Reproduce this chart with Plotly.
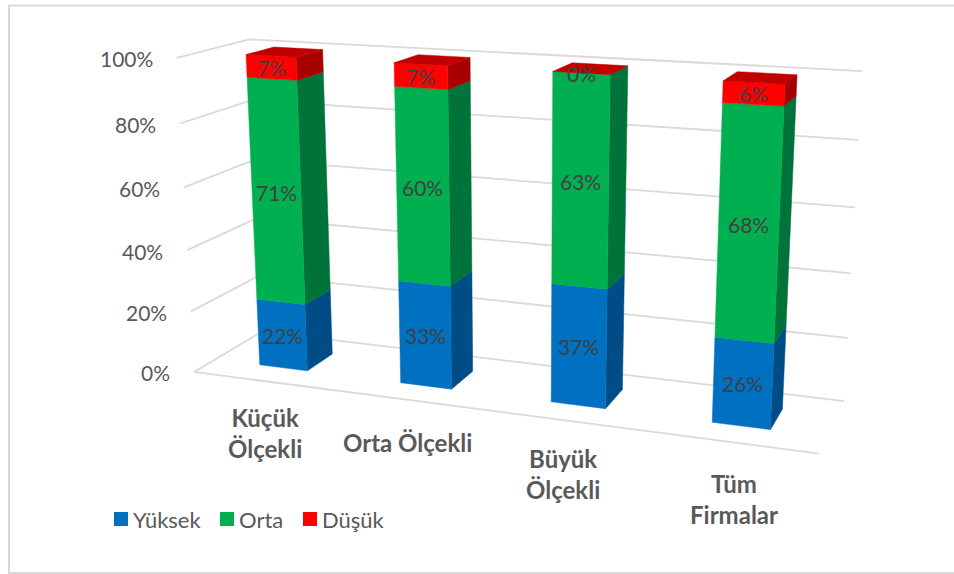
import numpy as np
import plotly.graph_objects as go

categories = ["Küçük<br>Ölçekli", "Orta Ölçekli", "Büyük<br>Ölçekli", "Tüm<br>Firmalar"]
series_names = ["Yüksek", "Orta", "Düşük"]
yuksek = [22, 33, 37, 26]
orta = [71, 60, 63, 68]
dusuk = [7, 7, 0, 6]
value_ticks = [0, 20, 40, 60, 80, 100]

series_values = [yuksek, orta, dusuk]
front_colors = ["#0070C0", "#00B050", "#FF0000"]
side_colors = ["#004C86", "#00733A", "#A60000"]
top_color = "#C00000"
GRID = "#D9D9D9"
TICK_TXT = "#595959"
LABEL_TXT = "#404040"
FONT = "Lato"

# perspective camera of the 3-D box: world (category, depth, share) -> screen
world = np.array([[0, 0, 0], [0, 0, 1], [0, 1, 0], [0, 1, 1], [4, 0, 0], [4, 1, 0], [4, 1, 1]], float)
screen = np.array([[194, 372], [176.7, 58], [262, 331.5], [249.3, 39.3], [819, 453.3], [844.3, 401.3], [862.3, 71]])
A, b = [], []
for (X, Y, Z), (u, v) in zip(world, screen):
    A.append([X, Y, Z, 1, 0, 0, 0, 0, -u * X, -u * Y, -u * Z]); b.append(u)
    A.append([0, 0, 0, 0, X, Y, Z, 1, -v * X, -v * Y, -v * Z]); b.append(v)
P = np.append(np.linalg.lstsq(np.array(A), np.array(b), rcond=None)[0], 1).reshape(3, 4)


def project(X, Y, Z):
    h = P @ np.array([X, Y, Z, 1.0])
    return h[0] / h[2], h[1] / h[2]


BAR_W = 0.345
D0, D1 = 0.30, 0.70
LABEL_DX = [2, -1, -1, 3]
LABEL_DY = [20, 26, 22, 25]

fig = go.Figure()


def poly(points, color):
    xy = [project(*p) for p in points]
    xs = [q[0] for q in xy] + [xy[0][0]]
    ys = [q[1] for q in xy] + [xy[0][1]]
    fig.add_trace(go.Scatter(x=xs, y=ys, mode="lines", fill="toself", fillcolor=color,
                             line=dict(color=color, width=0.5), hoverinfo="skip", showlegend=False))


# gridlines on the left wall and the back wall
for t in value_ticks:
    z = t / 100
    pts = [project(0, 0, z), project(0, 1, z), project(4, 1, z)]
    fig.add_trace(go.Scatter(x=[q[0] for q in pts], y=[q[1] for q in pts], mode="lines",
                             line=dict(color=GRID, width=1.8), hoverinfo="skip", showlegend=False))
    u, v = pts[0]
    fig.add_annotation(x=u - 22, y=v + 1, text=f"{t}%", showarrow=False, xanchor="right", yanchor="middle",
                       font=dict(family=FONT, size=21, color=TICK_TXT))
floor = [project(0, 0, 0), project(4, 0, 0)]
fig.add_trace(go.Scatter(x=[q[0] for q in floor], y=[q[1] for q in floor], mode="lines",
                         line=dict(color=GRID, width=1.8), hoverinfo="skip", showlegend=False))

# stacked columns
for i, cat in enumerate(categories):
    x0, x1 = i + 0.5 - BAR_W / 2, i + 0.5 + BAR_W / 2
    base = 0
    for s in range(3):
        val = series_values[s][i]
        z0, z1 = base / 100, (base + val) / 100
        if val > 0:
            poly([(x1, D0, z0), (x1, D1, z0), (x1, D1, z1), (x1, D0, z1)], side_colors[s])
            poly([(x0, D0, z0), (x1, D0, z0), (x1, D0, z1), (x0, D0, z1)], front_colors[s])
        base += val
    top = base / 100
    poly([(x0, D0, top), (x1, D0, top), (x1, D1, top), (x0, D1, top)], top_color)
    base = 0
    for s in range(3):
        val = series_values[s][i]
        u, v = project(i + 0.5, D0, (base + val / 2) / 100)
        fig.add_annotation(x=u, y=v, text=f"{val}%", showarrow=False,
                           font=dict(family=FONT, size=21, color=LABEL_TXT))
        base += val
    u, v = project(i + 0.5, 0, 0)
    fig.add_annotation(x=u + LABEL_DX[i], y=v + LABEL_DY[i], text=f"<b>{cat}</b>", showarrow=False,
                       xanchor="center", yanchor="top", align="center",
                       font=dict(family=FONT, size=24, color=TICK_TXT))

# legend
swatch_x = [121, 227, 310]
for s, name in enumerate(series_names):
    fig.add_trace(go.Scatter(x=[swatch_x[s]], y=[519], mode="markers", name=name, showlegend=False,
                             marker=dict(symbol="square", size=14, color=front_colors[s]), hoverinfo="skip"))
    fig.add_annotation(x=swatch_x[s] + 10, y=519, text=name, showarrow=False, xanchor="left",
                       font=dict(family=FONT, size=22, color=TICK_TXT))

fig.add_shape(type="rect", xref="x", yref="y", x0=9, y0=5.5, x1=970, y1=573,
              line=dict(color="#D9D9D9", width=2), fillcolor="rgba(0,0,0,0)")
fig.update_layout(width=954, height=574, margin=dict(l=0, r=0, t=0, b=0), paper_bgcolor="white",
                  plot_bgcolor="white", showlegend=False,
                  xaxis=dict(range=[0, 954], visible=False, fixedrange=True),
                  yaxis=dict(range=[574, 0], visible=False, fixedrange=True))
fig.write_html("out.html", config={"displayModeBar": False},
               post_script="document.body.style.margin='0';document.body.style.overflow='hidden';")
